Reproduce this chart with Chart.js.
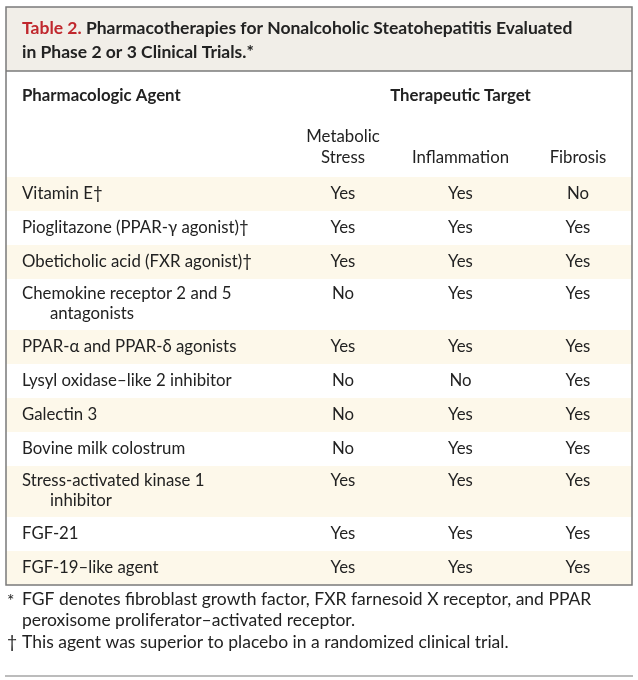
<!DOCTYPE html>
<html lang="en">
<head>
<meta charset="UTF-8">
<title>Table 2</title>
<script src="https://cdn.jsdelivr.net/npm/chart.js"></script>
<style>
  body, html { margin: 0; padding: 0; background: #fff; }
  #wrap { width: 638px; height: 680px; }
</style>
</head>
<body>
<div id="wrap"><canvas id="tbl" width="638" height="680"></canvas></div>
<script>
// Table contents
const targets = ['Metabolic\nStress', 'Inflammation', 'Fibrosis'];
const agents = [
  'Vitamin E\u2020',
  'Pioglitazone (PPAR-\u03b3 agonist)\u2020',
  'Obeticholic acid (FXR agonist)\u2020',
  'Chemokine receptor 2 and 5\nantagonists',
  'PPAR-\u03b1 and PPAR-\u03b4 agonists',
  'Lysyl oxidase\u2013like 2 inhibitor',
  'Galectin 3',
  'Bovine milk colostrum',
  'Stress-activated kinase 1\ninhibitor',
  'FGF-21',
  'FGF-19\u2013like agent'
];
const metabolic    = ['Yes','Yes','Yes','No','Yes','No','No','No','Yes','Yes','Yes'];
const inflammation = ['Yes','Yes','Yes','Yes','Yes','No','Yes','Yes','Yes','Yes','Yes'];
const fibrosis     = ['No','Yes','Yes','Yes','Yes','Yes','Yes','Yes','Yes','Yes','Yes'];
const footnotes = [
  ['*', 'FGF denotes fibroblast growth factor, FXR farnesoid X receptor, and PPAR'],
  ['',  'peroxisome proliferator\u2013activated receptor.'],
  ['\u2020', 'This agent was superior to placebo in a randomized clinical trial.']
];

// row extents in y units: single line rows 2, two-line rows 3
const rowStart = [];
let acc = 0;
agents.forEach(a => { rowStart.push(acc); acc += a.includes('\n') ? 3 : 2; });
const totalUnits = acc;

const FONT = 'Lato, "Open Sans", sans-serif';

const tablePlugin = {
  id: 'tablePlugin',
  beforeDraw(chart) {
    const ctx = chart.ctx;
    const x = chart.scales.x, y = chart.scales.y;
    ctx.save();
    ctx.fillStyle = '#fff';
    ctx.fillRect(0, 0, chart.width, chart.height);

    // title band
    ctx.fillStyle = '#f1eee8';
    ctx.fillRect(6, 7, 626, 64);

    // row backgrounds
    agents.forEach((a, i) => {
      if (i % 2) return;
      const top = y.getPixelForValue(rowStart[i]);
      const bot = y.getPixelForValue(rowStart[i] + (a.includes('\n') ? 3 : 2));
      ctx.fillStyle = '#fdf8ea';
      ctx.fillRect(6, top, 626, bot - top);
    });

    // frame
    ctx.strokeStyle = '#7a7a7a';
    ctx.lineWidth = 1.5;
    ctx.strokeRect(6, 7, 626, y.bottom - 7);
    ctx.beginPath(); ctx.moveTo(6, 71); ctx.lineTo(632, 71); ctx.stroke();
    ctx.lineWidth = 1.2;
    ctx.beginPath(); ctx.moveTo(5, 676); ctx.lineTo(633, 676); ctx.stroke();

    ctx.textBaseline = 'middle';
    // title
    ctx.font = 'bold 17.5px ' + FONT;
    ctx.textAlign = 'left';
    ctx.fillStyle = '#c0272d';
    ctx.fillText('Table 2.', 22, 28);
    const w = ctx.measureText('Table 2. ').width;
    ctx.fillStyle = '#222';
    ctx.fillText('Pharmacotherapies for Nonalcoholic Steatohepatitis Evaluated', 22 + w, 28);
    ctx.fillText('in Phase 2 or 3 Clinical Trials.*', 22, 52);

    // headers
    ctx.font = 'bold 16.8px ' + FONT;
    ctx.fillText('Pharmacologic Agent', 22, 96);
    ctx.textAlign = 'center';
    ctx.fillText('Therapeutic Target', (x.left + x.right) / 2, 96);
    ctx.font = '16.8px ' + FONT;
    targets.forEach((t, j) => {
      const cx = x.getPixelForValue(j);
      const lines = t.split('\n');
      lines.forEach((l, k) => ctx.fillText(l, cx, 158 - (lines.length - 1 - k) * 21));
    });

    // rows
    const cols = [metabolic, inflammation, fibrosis];
    agents.forEach((a, i) => {
      const top = y.getPixelForValue(rowStart[i]);
      const lines = a.split('\n');
      const first = lines.length > 1 ? top + 15 : (top + y.getPixelForValue(rowStart[i] + 2)) / 2;
      ctx.textAlign = 'left';
      ctx.fillStyle = '#222';
      lines.forEach((l, k) => ctx.fillText(l, k ? 50 : 22, first + k * 20));
      ctx.textAlign = 'center';
      cols.forEach((c, j) => ctx.fillText(c[i], x.getPixelForValue(j), first));
    });

    // footnotes
    ctx.font = '17.5px ' + FONT;
    ctx.textAlign = 'left';
    footnotes.forEach((f, k) => {
      const fy = 599 + k * 21.5;
      if (f[0]) ctx.fillText(f[0], 7, fy + (f[0] === '*' ? 2 : 0));
      ctx.fillText(f[1], 22, fy);
    });
    ctx.restore();
  }
};

new Chart(document.getElementById('tbl').getContext('2d'), {
  type: 'scatter',
  data: { labels: [0, 1, 2], datasets: [{ data: [] }] },
  options: {
    responsive: false,
    animation: false,
    layout: { padding: { top: 177, bottom: 95, left: 343, right: 60 } },
    plugins: { legend: { display: false }, tooltip: { enabled: false } },
    scales: {
      x: { type: 'linear', min: 0, max: targets.length - 1, display: false },
      y: { type: 'linear', min: 0, max: totalUnits, reverse: true, display: false }
    }
  },
  plugins: [tablePlugin]
});
</script>
</body>
</html>
